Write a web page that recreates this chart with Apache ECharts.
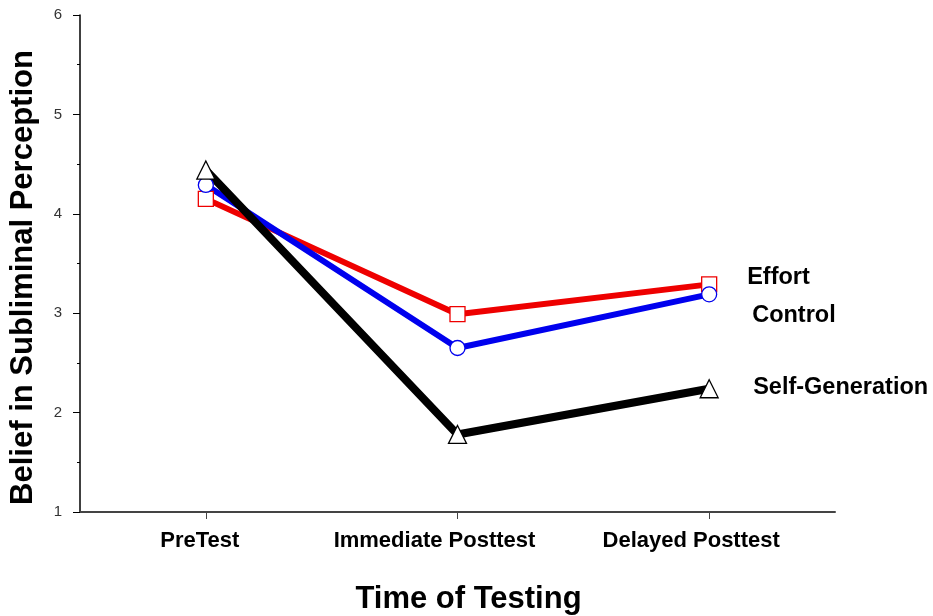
<!DOCTYPE html>
<html>
<head>
<meta charset="utf-8">
<script src="https://cdn.jsdelivr.net/npm/echarts@6/dist/echarts.min.js"></script>
<style>
html,body{margin:0;padding:0;background:#fff;}
#chart{width:933px;height:616px;}
</style>
</head>
<body>
<div id="chart"></div>
<script>
const categories = ['PreTest', 'Immediate Posttest', 'Delayed Posttest'];
const effort = [4.15, 2.99, 3.29];
const control = [4.29, 2.65, 3.19];
const selfGeneration = [4.44, 1.78, 2.24];
const yTicks = [1, 2, 3, 4, 5, 6];

const FONT = '"Liberation Sans", Arial, sans-serif';

function mkSeries(name, data, color, width, symbol, labelOffset) {
  return {
    name: name,
    type: 'line',
    data: data,
    symbol: symbol,
    symbolSize: symbol === 'triangle' ? 18 : 15,
    showAllSymbol: true,
    lineStyle: { color: color, width: width },
    itemStyle: { color: '#fff', borderColor: color, borderWidth: 1.3 },
    emphasis: { disabled: true },
    endLabel: {
      show: true,
      formatter: name,
      distance: 0,
      offset: labelOffset,
      align: 'left',
      verticalAlign: 'middle',
      color: '#000',
      fontFamily: FONT,
      fontWeight: 'bold',
      fontSize: 23.5
    },
    animation: false
  };
}

const chart = echarts.init(document.getElementById('chart'));
chart.setOption({
  backgroundColor: '#fff',
  animation: false,
  grid: { left: 80, right: 98, top: 15, bottom: 104, containLabel: false, outerBoundsMode: 'none' },
  xAxis: {
    type: 'category',
    data: categories,
    boundaryGap: true,
    name: 'Time of Testing',
    nameLocation: 'middle',
    nameGap: 72,
    nameTextStyle: { fontFamily: FONT, fontWeight: 'bold', fontSize: 31, color: '#000', padding: [0, 0, 0, 22] },
    axisLine: { show: true, lineStyle: { color: '#444', width: 2 } },
    axisTick: { show: true, alignWithLabel: true, length: 7, lineStyle: { color: '#444', width: 1 } },
    axisLabel: {
      margin: 18,
      interval: 0,
      hideOverlap: false,
      fontFamily: FONT, fontWeight: 'bold', fontSize: 22, color: '#000',
      formatter: function (v, i) { return '{l' + i + '|' + v + '}'; },
      rich: {
        l0: { fontFamily: FONT, fontWeight: 'bold', fontSize: 22, color: '#000', padding: [0, 12, 0, 0] },
        l1: { fontFamily: FONT, fontWeight: 'bold', fontSize: 22, color: '#000', padding: [0, 46, 0, 0] },
        l2: { fontFamily: FONT, fontWeight: 'bold', fontSize: 22, color: '#000', padding: [0, 36, 0, 0] }
      }
    },
    splitLine: { show: false }
  },
  yAxis: {
    type: 'value',
    min: yTicks[0],
    max: yTicks[yTicks.length - 1],
    interval: 1,
    name: 'Belief in Subliminal Perception',
    nameLocation: 'middle',
    nameRotate: 90,
    nameGap: 41,
    nameTextStyle: { fontFamily: FONT, fontWeight: 'bold', fontSize: 31, color: '#000', padding: [0, 28, 0, 0] },
    axisLine: { show: true, lineStyle: { color: '#000', width: 1.5 } },
    axisTick: { show: true, length: 7, lineStyle: { color: '#000', width: 1 } },
    minorTick: { show: true, splitNumber: 2, length: 3, lineStyle: { color: '#000', width: 1 } },
    axisLabel: { margin: 18, fontFamily: FONT, fontSize: 15, color: '#333' },
    splitLine: { show: false }
  },
  series: [
    mkSeries('Effort', effort, '#ee0000', 6, 'rect', [38, -7]),
    mkSeries('Control', control, '#0000ee', 6, 'circle', [43, 21]),
    mkSeries('Self-Generation', selfGeneration, '#000000', 8, 'triangle', [44, -1])
  ]
});
</script>
</body>
</html>
